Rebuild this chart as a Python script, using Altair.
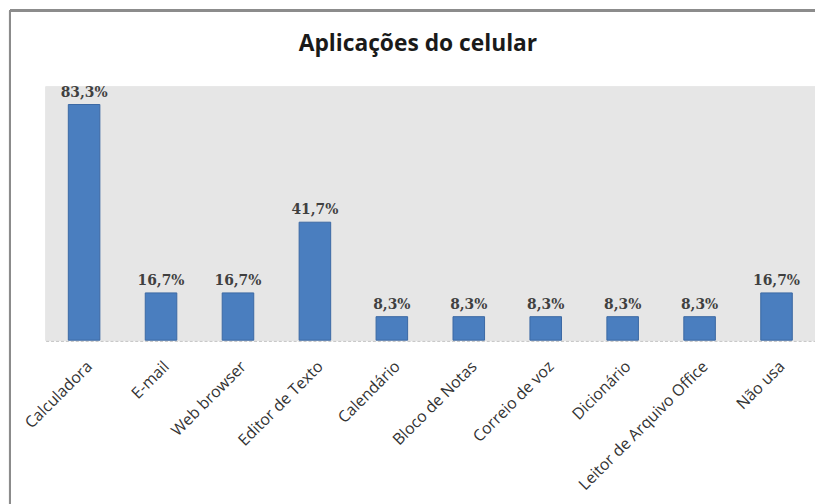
import altair as alt
import pandas as pd

categorias = ["Calculadora", "E-mail", "Web browser", "Editor de Texto", "Calendário",
              "Bloco de Notas", "Correio de voz", "Dicionário", "Leitor de Arquivo Office", "Não usa"]
percentuais = [83.3, 16.7, 16.7, 41.7, 8.3, 8.3, 8.3, 8.3, 8.3, 16.7]
titulo = "Aplicações do celular"

df = pd.DataFrame({"cat": categorias, "pct": percentuais})

W, H = 777, 256

x_enc = alt.X("cat:N", sort=categorias, title=None,
              scale=alt.Scale(paddingInner=0.59, paddingOuter=0.295),
              axis=alt.Axis(labelAngle=-45, labelFont="Open Sans", labelFontSize=16,
                            labelColor="#333333", labelPadding=18, ticks=False,
                            domainColor="#9a9a9a", domainDash=[3, 2], domainWidth=1.5,
                            labelLimit=300))
y_enc = alt.Y("pct:Q", title=None, axis=None,
              scale=alt.Scale(domain=[0, 89.6], nice=False, zero=True))

base = alt.Chart(df)

bg = base.mark_rect(color="#e6e6e6").encode(
    x=alt.value(0), x2=alt.value(W), y=alt.value(0), y2=alt.value(H))

bars = base.mark_bar(color="#4a7ebf", stroke="#3b68a3", strokeWidth=1).encode(
    x=x_enc, y=y_enc)

labels = base.transform_calculate(
    lbl="replace(format(datum.pct, '.1f'), '.', ',') + '%'"
).mark_text(baseline="alphabetic", dy=-8, font="DejaVu Serif", fontWeight="bold",
            fontSize=14, color="#404040").encode(x=x_enc, y=y_enc, text="lbl:N")

title_mark = alt.Chart(pd.DataFrame({"t": [titulo]})).mark_text(
    font="Open Sans", fontSize=23, fontWeight="bold", color="#1a1a1a",
    align="center", baseline="alphabetic").encode(
    x=alt.value(376), y=alt.value(-36), text="t:N")

frame_top = base.mark_rule(color="#8c8c8c", strokeWidth=2).encode(
    x=alt.value(-36), x2=alt.value(W + 10), y=alt.value(-77))
frame_left = base.mark_rule(color="#8c8c8c", strokeWidth=2).encode(
    x=alt.value(-36), y=alt.value(-77), y2=alt.value(H + 200))

chart = alt.layer(bg, frame_top, frame_left, bars, labels, title_mark).properties(
    width=W, height=H,
    autosize=alt.AutoSizeParams(type="none"),
    padding={"left": 38, "top": 77, "right": 0, "bottom": 163},
).configure_view(stroke=None).configure(background="white")

chart.save("out.html", embed_options={"renderer": "svg", "actions": False})
